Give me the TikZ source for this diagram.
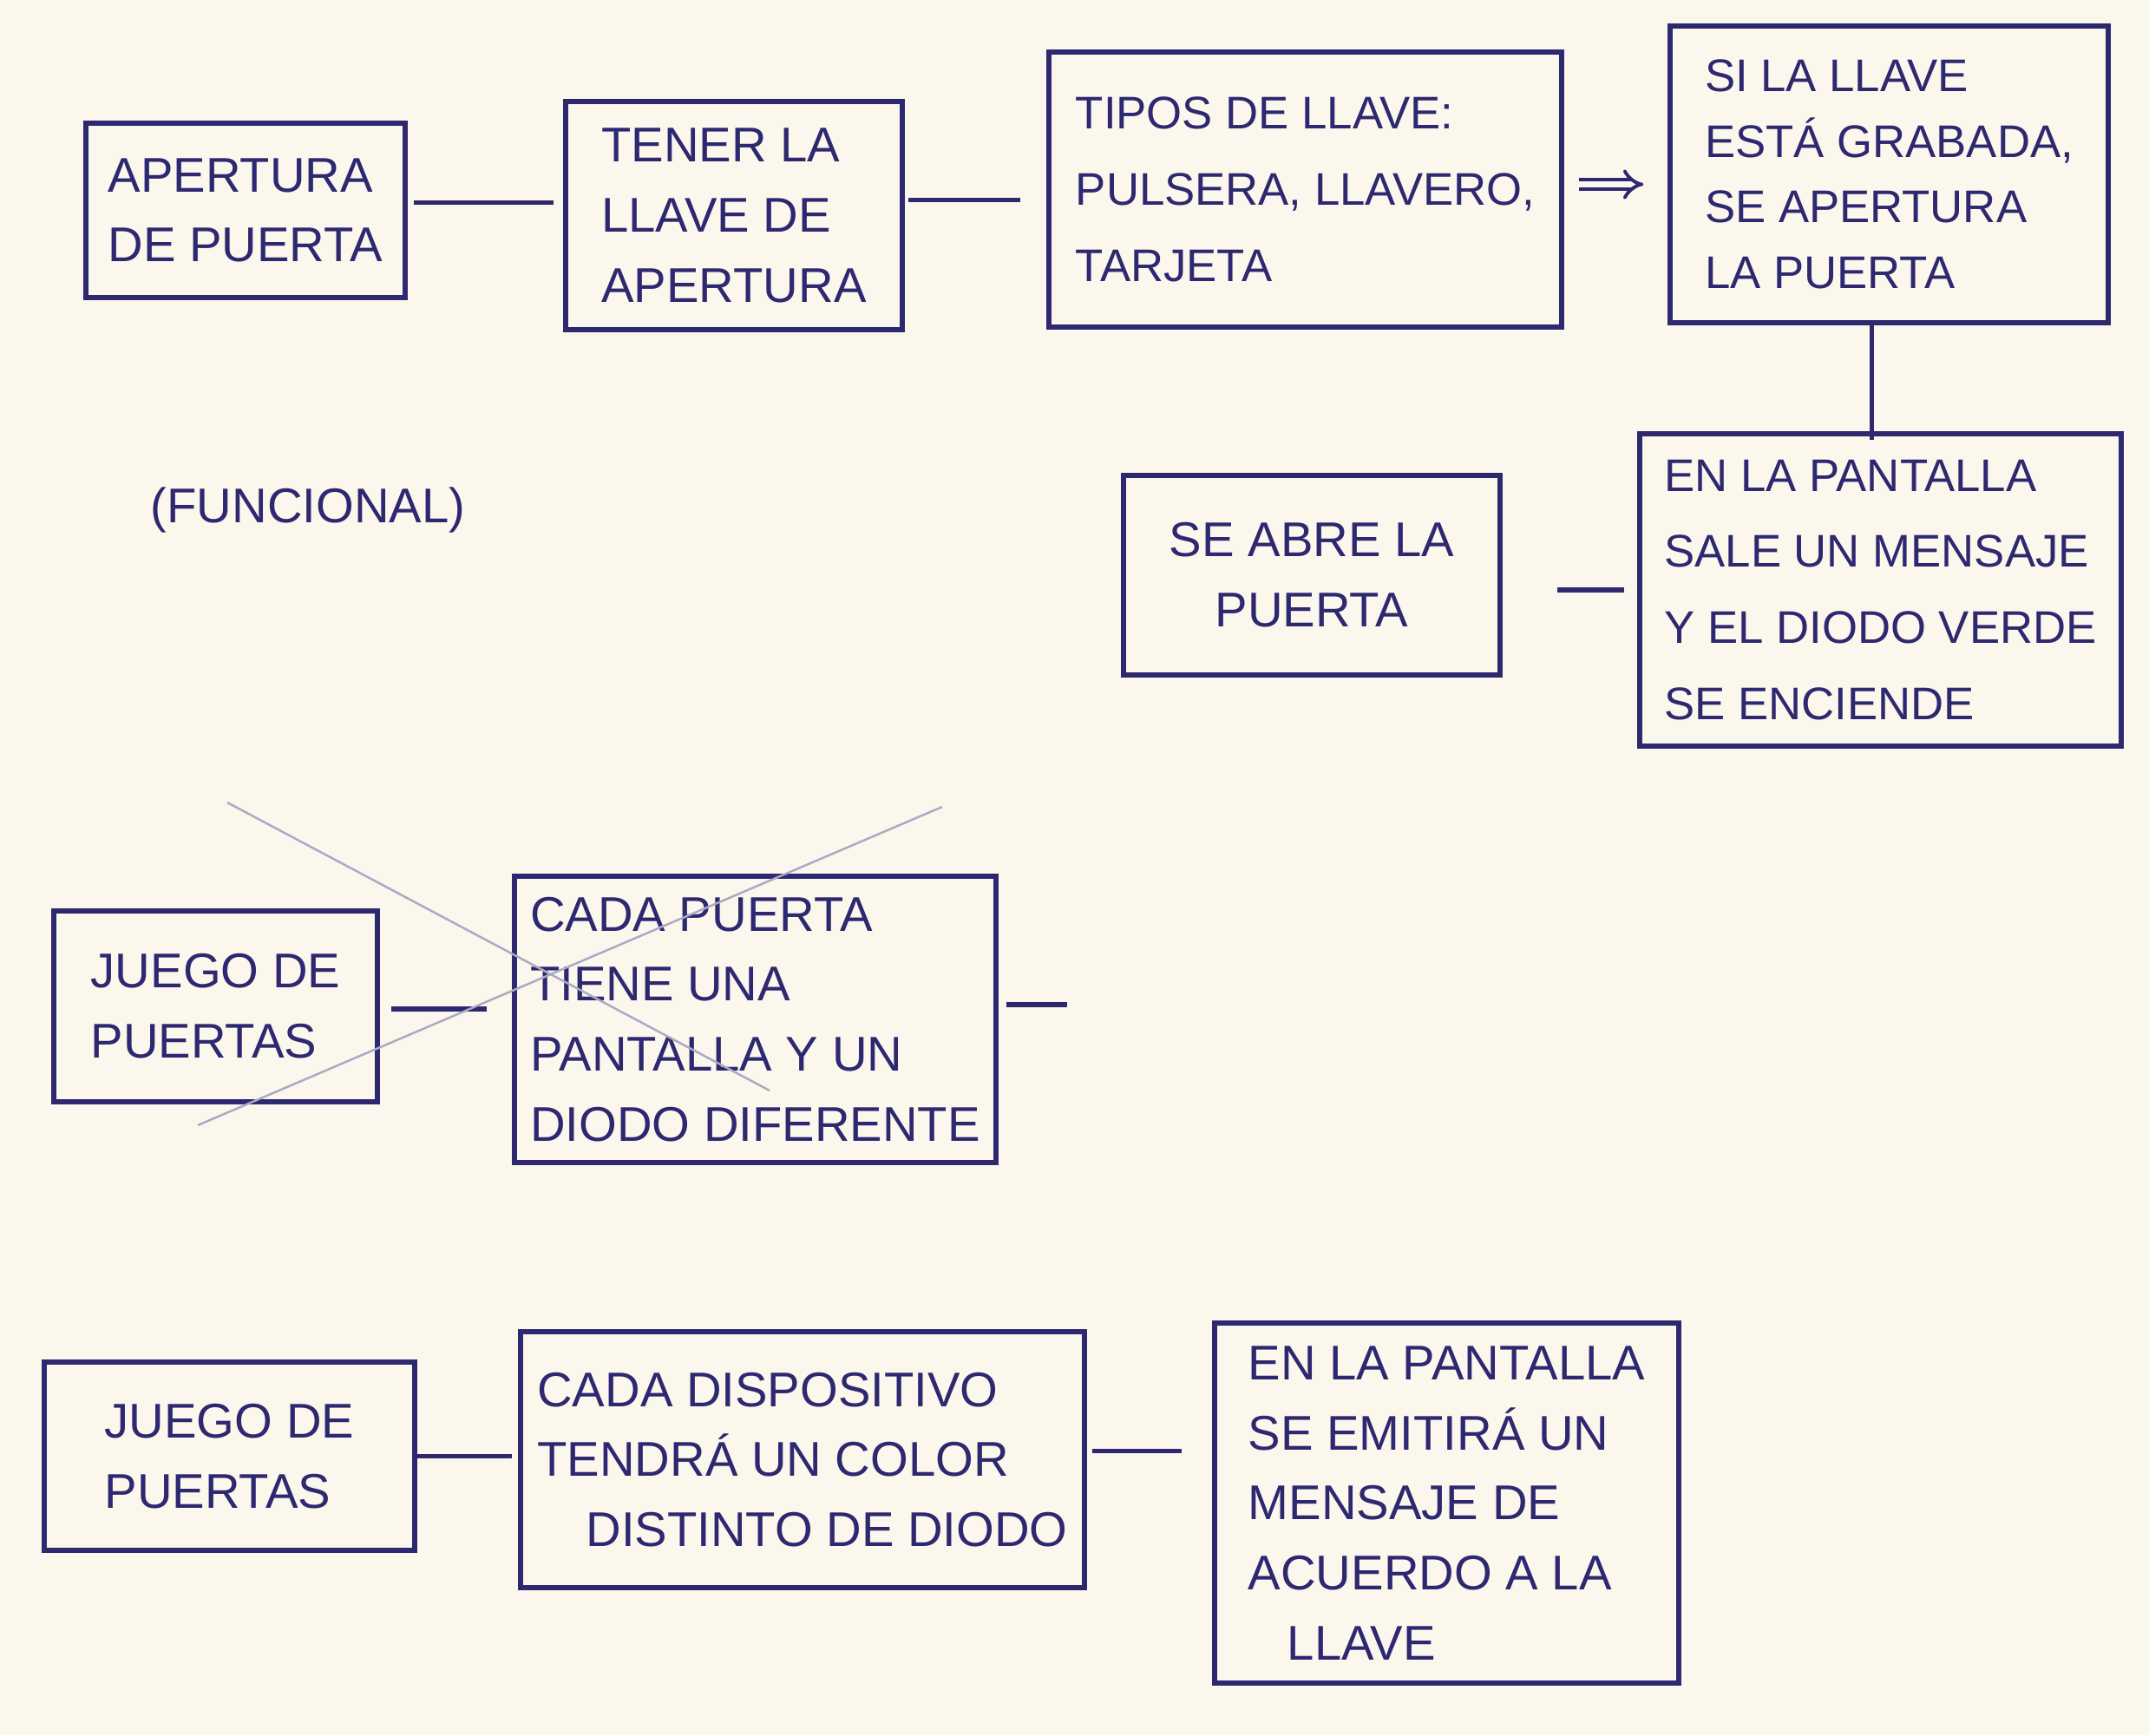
\documentclass[tikz,border=0pt]{standalone}
\usepackage{fontspec}
\setmainfont{Liberation Sans}
\usetikzlibrary{arrows.meta,calc}
\definecolor{paper}{HTML}{FBF7EC}
\definecolor{ink}{HTML}{2D2870}
\begin{document}
\begin{tikzpicture}[
  box/.style={draw=ink, line width=1.5pt, align=left, text=ink, inner sep=0pt,
              font=\fontsize{16}{23}\selectfont},
  small/.style={font=\fontsize{15}{25}\selectfont},
  tight/.style={font=\fontsize{15}{21.5}\selectfont},
  link/.style={draw=ink, line width=1.5pt},
  faint/.style={draw=ink!40, line width=0.7pt},
  note/.style={text=ink, font=\fontsize{16}{20}\selectfont, inner sep=0pt}
]
\fill[paper] (0,0) rectangle (24.77,-20);
\useasboundingbox (0,0) rectangle (24.77,-20);

% row 1
\node[box, minimum width=3.68cm, minimum height=2.01cm] (b1) at (2.83,-2.425) {APERTURA\\DE PUERTA};
\node[box, minimum width=3.88cm, minimum height=2.63cm] (b2) at (8.46,-2.485) {TENER LA\\LLAVE DE\\APERTURA};
\node[box, small, minimum width=5.91cm, minimum height=3.17cm] (b3) at (15.045,-2.185) {TIPOS DE LLAVE:\\PULSERA, LLAVERO,\\TARJETA};
\node[box, tight, minimum width=5.05cm, minimum height=3.42cm] (b4) at (21.775,-2.01) {SI LA LLAVE\\ESTÁ GRABADA,\\SE APERTURA\\LA PUERTA};

% row 2
\node[box, small, minimum width=5.55cm, minimum height=3.60cm] (b5) at (21.675,-6.80) {EN LA PANTALLA\\SALE UN MENSAJE\\Y EL DIODO VERDE\\SE ENCIENDE};
\node[box, align=center, minimum width=4.34cm, minimum height=2.30cm] (b6) at (15.12,-6.63) {SE ABRE LA\\PUERTA};
\node[note] (fun) at (3.55,-5.88) {(FUNCIONAL)};

% row 3
\node[box, minimum width=3.73cm, minimum height=2.20cm] (b7) at (2.485,-11.60) {JUEGO DE\\PUERTAS};
\node[box, minimum width=5.55cm, minimum height=3.30cm] (b8) at (8.705,-11.75) {CADA PUERTA\\TIENE UNA\\PANTALLA Y UN\\DIODO DIFERENTE};

% row 4
\node[box, minimum width=4.27cm, minimum height=2.17cm] (b9) at (2.645,-16.785) {JUEGO DE\\PUERTAS};
\node[box, minimum width=6.50cm, minimum height=2.95cm] (b10) at (9.25,-16.825) {CADA DISPOSITIVO\\TENDRÁ UN COLOR\\\hspace*{1em}DISTINTO DE DIODO};
\node[box, minimum width=5.35cm, minimum height=4.15cm] (b11) at (16.675,-17.325) {EN LA PANTALLA\\SE EMITIRÁ UN\\MENSAJE DE\\ACUERDO A LA\\\hspace*{0.8em}LLAVE};

% connector start points
\coordinate (s12) at ($(b1.east)+(0,0.09)$);
\coordinate (s23) at ($(b2.east)+(0,0.18)$);
\coordinate (s34) at ($(b3.east)+(0,0.06)$);
\coordinate (s45) at ($(b4.south)+(-0.2,0)$);
\coordinate (s78) at ($(b7.east)+(0,-0.03)$);
\coordinate (s8d) at ($(b8.east)+(0.09,0.17)$);
\coordinate (d8) at ($(b8.east)+(0.79,0.17)$);
\coordinate (s1011) at ($(b10.east)+(0,0.10)$);

% connectors
\draw[link, shorten <=0.07cm, shorten >=0.11cm] (s12) -- (s12 -| b2.west);
\draw[link, shorten <=0.04cm, shorten >=0.30cm] (s23) -- (s23 -| b3.west);
\draw[ink, line width=1.1pt, double=paper, double distance=2.2pt, -{Implies}, shorten <=0.17cm, shorten >=0.28cm]
  (s34) -- (s34 -| b4.west);
\draw[link, shorten >=-0.1cm] (s45) -- (s45 |- b5.north);
\draw[link, shorten <=0.63cm, shorten >=0.15cm] (b5.west -| b6.east) -- (b5.west);
\draw[link, shorten <=0.13cm, shorten >=0.29cm] (s78) -- (s78 -| b8.west);
\draw[link] (s8d) -- (d8);
\draw[link, shorten >=0.07cm] (b9.east) -- (b9.east -| b10.west);
\draw[link, shorten <=0.06cm, shorten >=0.35cm] (s1011) -- (s1011 -| b11.west);

% faint crossing strokes
\coordinate (xa1) at (2.62,-9.25);
\coordinate (xa2) at (8.87,-12.57);
\coordinate (xb1) at (10.86,-9.30);
\coordinate (xb2) at (2.28,-12.97);
\draw[faint] (xa1) -- (xa2);
\draw[faint] (xb1) -- (xb2);
\end{tikzpicture}
\end{document}
